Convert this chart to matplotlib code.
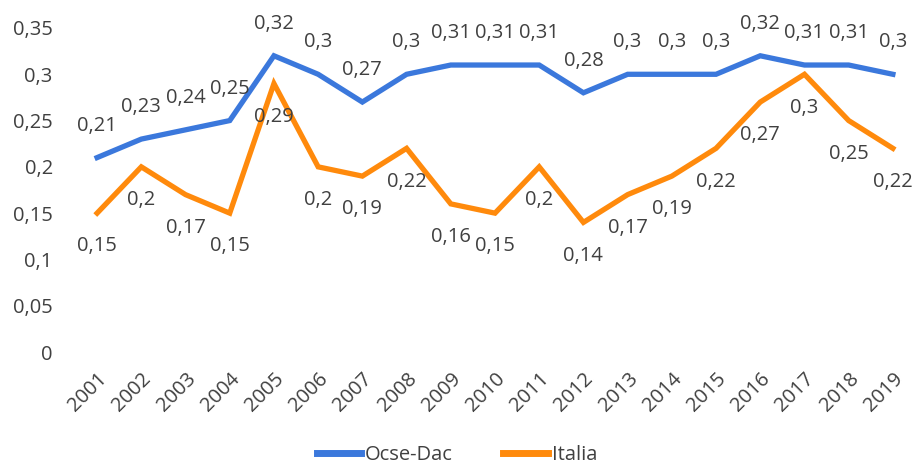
import matplotlib.pyplot as plt

anni = [str(a) for a in range(2001, 2020)]
ocse = [0.21, 0.23, 0.24, 0.25, 0.32, 0.3, 0.27, 0.3, 0.31, 0.31, 0.31, 0.28, 0.3, 0.3, 0.3, 0.32, 0.31, 0.31, 0.3]
italia = [0.15, 0.2, 0.17, 0.15, 0.29, 0.2, 0.19, 0.22, 0.16, 0.15, 0.2, 0.14, 0.17, 0.19, 0.22, 0.27, 0.3, 0.25, 0.22]
yticks = [0, 0.05, 0.1, 0.15, 0.2, 0.25, 0.3, 0.35]

plt.rcParams['font.family'] = ['Open Sans', 'DejaVu Sans']
grigio = "#404040"
fs = 14.5

fig = plt.figure(figsize=(9.14, 4.71), dpi=100)
ax = fig.add_axes([75 / 914, 119 / 471, 840 / 914, 324 / 471])

x = list(range(len(anni)))
ax.plot(x, ocse, color="#3b78dc", lw=3.8, label="Ocse-Dac", solid_joinstyle="miter", clip_on=False)
ax.plot(x, italia, color="#ff8a0c", lw=3.8, label="Italia", solid_joinstyle="miter", clip_on=False)

def fmt(v):
    return ("%g" % v).replace(".", ",")

# etichette dati: sopra per Ocse-Dac, sotto per Italia
for xi, v in zip(x, ocse):
    ax.annotate(fmt(v), (xi, v), xytext=(0, 23), textcoords="offset points",
                ha="center", va="center", fontsize=fs, color=grigio)
for xi, v in zip(x, italia):
    ax.annotate(fmt(v), (xi, v), xytext=(0, -24), textcoords="offset points",
                ha="center", va="center", fontsize=fs, color=grigio)

ax.set_xlim(-0.5, 18.5)
ax.set_ylim(0, 0.35)
ax.set_yticks(yticks)
ax.set_yticklabels([fmt(t) for t in yticks], fontsize=fs, color=grigio)
ax.set_xticks(x)
ax.set_xticklabels(anni, rotation=45, ha="right", va="top", rotation_mode="anchor",
                   fontsize=fs, color=grigio)
ax.tick_params(axis="both", length=0)
ax.tick_params(axis="y", pad=16)
ax.tick_params(axis="x", pad=12)
for s in ax.spines.values():
    s.set_visible(False)

leg = fig.legend(loc="lower center", bbox_to_anchor=(0.5, -0.025), ncol=2, frameon=False,
                 fontsize=fs, handlelength=2.2, handletextpad=0.2, columnspacing=2.5)
for t in leg.get_texts():
    t.set_color(grigio)
for l in leg.get_lines():
    l.set_linewidth(5)

fig.savefig("out.png", dpi=100)
